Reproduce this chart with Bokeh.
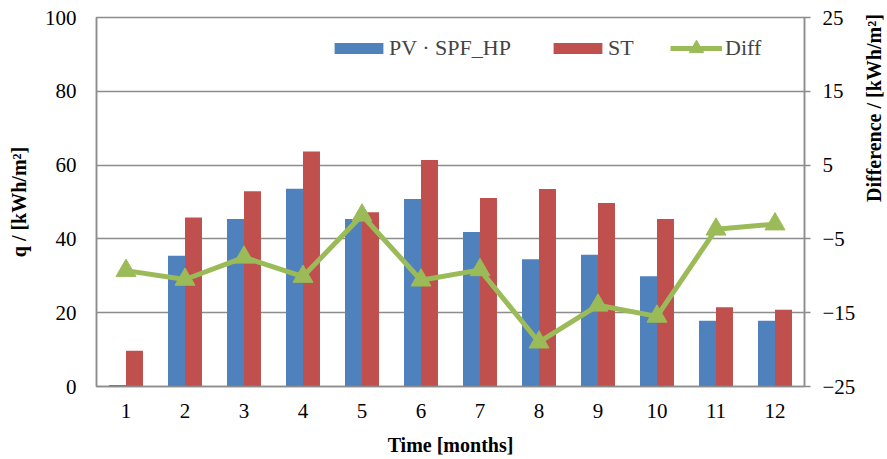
import math
from bokeh.plotting import figure
from bokeh.models import Range1d, LinearAxis, FixedTicker, Legend, LegendItem, ColumnDataSource
from bokeh.transform import dodge
from bokeh.embed import file_html
from bokeh.resources import INLINE

# ---- data ----
months = [1, 2, 3, 4, 5, 6, 7, 8, 9, 10, 11, 12]
month_labels = ["1", "2", "3", "4", "5", "6", "7", "8", "9", "10", "11", "12"]
pv_spf_hp = [0.4, 35.4, 45.4, 53.6, 45.4, 50.8, 41.9, 34.5, 35.7, 29.9, 17.8, 17.8]
st = [9.7, 45.8, 52.9, 63.7, 47.2, 61.4, 51.1, 53.5, 49.7, 45.4, 21.5, 20.8]
diff = [-9.3, -10.5, -7.5, -10.1, -1.8, -10.6, -9.2, -19.0, -14.0, -15.5, -3.7, -3.0]
left_ticks = [0, 20, 40, 60, 80, 100]
right_ticks = [-25, -15, -5, 5, 15, 25]

BLUE = "#4F81BD"
RED = "#C0504D"
GREEN = "#9BBB59"
GRID = "#8c8c8c"
FONT = "Liberation Serif"

src = ColumnDataSource(dict(month=months, pv=pv_spf_hp, st=st, diff=diff))

p = figure(frame_width=708, frame_height=369,
           x_range=Range1d(0.5, 12.5), y_range=Range1d(0, 100),
           output_backend="svg", toolbar_location=None,
           min_border_left=96, min_border_right=70,
           min_border_top=17, min_border_bottom=60)
p.extra_y_ranges = {"diff": Range1d(-25, 25)}

bw = 0.288
b1 = p.vbar(x=dodge("month", -bw / 2, range=p.x_range), top="pv", width=bw,
            source=src, fill_color=BLUE, line_color=None)
b2 = p.vbar(x=dodge("month", bw / 2, range=p.x_range), top="st", width=bw,
            source=src, fill_color=RED, line_color=None)
ln = p.line("month", "diff", source=src, y_range_name="diff",
            line_color=GREEN, line_width=5, line_join="round")
mk = p.scatter("month", "diff", source=src, y_range_name="diff",
               marker="triangle", size=20, fill_color=GREEN, line_color=GREEN)

# axes
p.xaxis.ticker = FixedTicker(ticks=months)
p.xaxis.major_label_overrides = {m: l for m, l in zip(months, month_labels)}
p.xaxis.axis_label = "Time [months]"
p.yaxis.ticker = FixedTicker(ticks=left_ticks)
p.yaxis.axis_label = "q / [kWh/m\u00b2]"

ra = LinearAxis(y_range_name="diff", ticker=FixedTicker(ticks=right_ticks),
                axis_label="Difference / [kWh/m\u00b2]")
p.add_layout(ra, "right")

for ax in [p.xaxis[0], p.yaxis[0], ra]:
    ax.axis_line_color = GRID
    ax.axis_line_width = 1.5
    ax.major_tick_line_color = GRID
    ax.major_tick_line_width = 1.5
    ax.major_tick_in = 0
    ax.minor_tick_line_color = None
    ax.major_label_text_font = FONT
    ax.major_label_text_font_size = "21px"
    ax.major_label_text_color = "black"
    ax.axis_label_text_font = FONT
    ax.axis_label_text_font_size = "20px"
    ax.axis_label_text_font_style = "bold"
    ax.axis_label_text_color = "black"

p.xaxis.major_tick_line_color = None
p.xaxis.major_tick_out = 0
p.xaxis.major_label_standoff = 17
p.xaxis.axis_label_standoff = 13
p.yaxis.major_tick_out = 0
p.yaxis.major_label_standoff = 20
p.yaxis.axis_label_standoff = 12
ra.major_tick_out = 6
ra.major_label_standoff = 12
ra.axis_label_standoff = 16
ra.axis_label_orientation = math.pi / 2

p.xgrid.grid_line_color = None
p.ygrid.ticker = FixedTicker(ticks=left_ticks)
p.ygrid.grid_line_color = GRID
p.ygrid.grid_line_width = 1.5
p.outline_line_color = GRID
p.outline_line_width = 1.5
p.background_fill_color = "white"
p.border_fill_color = "white"

legend_bars = Legend(items=[
    LegendItem(label="PV \u00b7 SPF_HP", renderers=[b1]),
    LegendItem(label="ST", renderers=[b2]),
], orientation="horizontal", location=(232, 325),
    border_line_color=None, background_fill_alpha=0,
    padding=0, margin=0, spacing=36, glyph_width=61, glyph_height=14,
    label_standoff=0, label_text_font=FONT, label_text_font_size="22px")
p.add_layout(legend_bars)

legend_diff = Legend(items=[
    LegendItem(label="Diff", renderers=[ln, mk]),
], orientation="horizontal", location=(574, 320),
    border_line_color=None, background_fill_alpha=0,
    padding=0, margin=0, glyph_width=52, glyph_height=36,
    label_standoff=3, label_text_font=FONT, label_text_font_size="22px")
p.add_layout(legend_diff)

open("out.html", "w").write(file_html(p, INLINE))
